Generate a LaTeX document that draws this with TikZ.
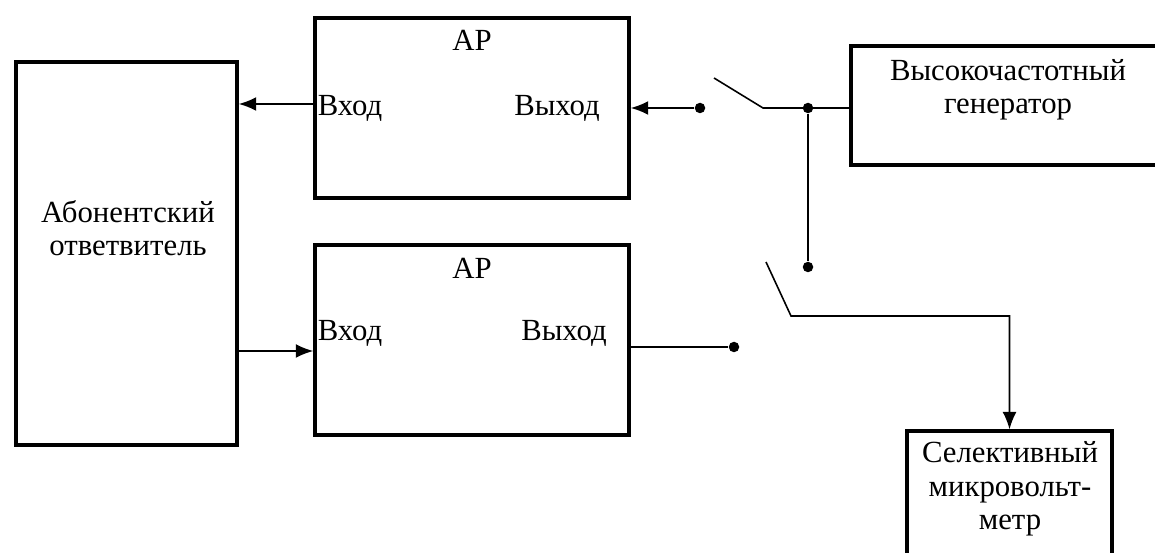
\documentclass[tikz,border=0pt]{standalone}
\usepackage{fontspec}
\setmainfont{Liberation Serif}
\usetikzlibrary{arrows.meta}

\begin{document}
\begin{tikzpicture}[
    x=0.02cm, y=-0.02cm,
    box/.style={draw, line width=1.9pt, inner sep=0pt},
    txt/.style={font=\fontsize{17.5}{19}\selectfont, align=center, inner sep=0pt},
    wire/.style={line width=1.2pt},
    thin wire/.style={line width=0.9pt},
    arr/.style={wire, -{Latex[length=10pt,width=8pt]}},
    dot/.style={circle, fill, inner sep=0pt, minimum size=0.21cm}
]
\useasboundingbox (0,0) rectangle (1155,553);

% Blocks
\node[box, minimum width=4.42cm, minimum height=7.66cm] (otv) at (126.5,253.5) {};
\node[box, minimum width=6.28cm, minimum height=3.6cm] (ar1) at (472,108) {};
\node[box, minimum width=6.28cm, minimum height=3.8cm] (ar2) at (472,340) {};
\node[box, minimum width=6.28cm, minimum height=2.38cm] (gen) at (1008,105.5) {};
\node[box, minimum width=4.1cm, minimum height=3cm] (mkv) at (1009.5,506) {};

% Texts
\node[txt] at (128,228) {Абонентский\\ответвитель};
\node[txt] at (472,40) {АР};
\node[txt] at (472,268) {АР};
\node[txt] at (350,108) {Вход};
\node[txt] at (557,108) {Выход};
\node[txt] at (350,333) {Вход};
\node[txt] at (564,333) {Выход};
\node[txt] at (1008,90) {Высокочастотный\\генератор};
\node[txt] at (1010,489) {Селективный\\микровольт-\\метр};

% Switch points
\coordinate (a1) at (315,104);
\coordinate (a2) at (315,351);
\node[dot] (d1) at (700,108) {};
\node[dot] (j1) at (808,108) {};
\node[dot] (d2) at (808,267) {};
\node[dot] (d3) at (734,347) {};
\coordinate (s1a) at (714,78);
\coordinate (s1b) at (763,108);
\coordinate (s2a) at (766,262);
\coordinate (s2b) at (791,316);

% Connections
\draw[arr] (ar1.west |- a1) -- (otv.east |- a1);
\draw[arr] (d1) -- (d1 -| ar1.east);
\draw[thin wire] (s1a) -- (s1b) -- (gen.west |- s1b);
\draw[wire] (j1) -- (d2);
\draw[thin wire, -{Latex[length=10pt,width=8pt]}] (s2a) -- (s2b) -| (mkv.north);
\draw[arr] (otv.east |- a2) -- (ar2.west |- a2);
\draw[thin wire] (ar2.east |- d3) -- (d3);

\end{tikzpicture}
\end{document}
